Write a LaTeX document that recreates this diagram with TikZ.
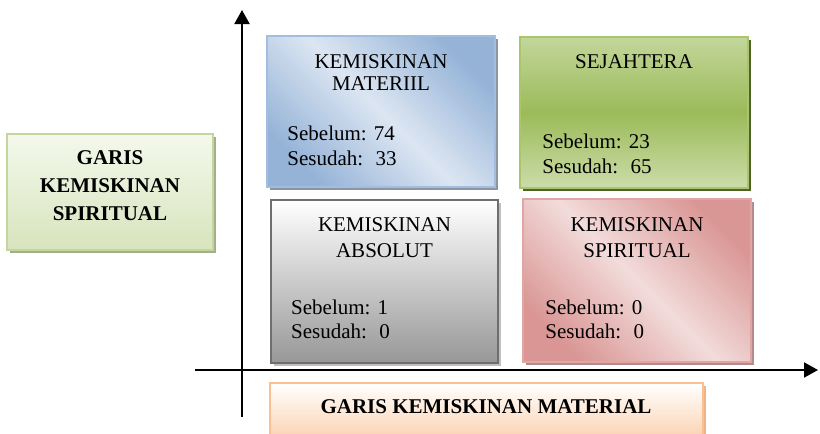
\documentclass[tikz,border=0pt]{standalone}
\usepackage{fontspec}
\setmainfont{Liberation Serif}
\usetikzlibrary{arrows.meta,positioning,shadows}

\definecolor{matdark}{HTML}{95B3D7}
\definecolor{matlight}{HTML}{DCE6F2}
\definecolor{matline}{HTML}{A3BDE0}
\definecolor{matshadow}{HTML}{8C96A2}
\definecolor{sejlight}{HTML}{C3D69B}
\definecolor{sejdark}{HTML}{9BBB59}
\definecolor{sejline}{HTML}{A8C66C}
\definecolor{sejshadow}{HTML}{4F6228}
\definecolor{absdark}{HTML}{979797}
\definecolor{absline}{HTML}{6E6E6E}
\definecolor{absshadow}{HTML}{C0C0C0}
\definecolor{spidark}{HTML}{D99694}
\definecolor{spilight}{HTML}{F2DCDB}
\definecolor{spishadow}{HTML}{B58A8C}
\definecolor{gkslight}{HTML}{F4F8EC}
\definecolor{gksdark}{HTML}{D7E4BD}
\definecolor{gksline}{HTML}{C3D69B}
\definecolor{gksshadow}{HTML}{A3AE8C}
\definecolor{gkmdark}{HTML}{FBD4B4}
\definecolor{gkmline}{HTML}{FAC090}
\definecolor{gkmshadow}{HTML}{F0B386}

\begin{document}
\begin{tikzpicture}[
    x=1pt, y=-1pt,
    box/.style={draw, line width=1.5pt, inner sep=0pt, minimum width=228pt, minimum height=151pt},
    shadowed/.style={drop shadow={shadow xshift=3pt, shadow yshift=-3pt, fill=#1, opacity=1}},
    title/.style={inner sep=0pt, align=center, font=\fontsize{21}{22}\selectfont},
    values/.style={inner sep=0pt, align=left, font=\fontsize{21}{25}\selectfont},
    bold/.style={inner sep=0pt, align=center, font=\fontsize{21}{28}\selectfont\bfseries},
    axis/.style={line width=2pt, -{Triangle[length=14pt,width=15pt]}},
  ]
  \useasboundingbox (0,0) rectangle (820,434);

  % axes
  \coordinate (ybottom) at (242,417);
  \coordinate (ytop) at (242,10);
  \coordinate (xleft) at (195,370);
  \coordinate (xright) at (818,370);
  \draw[axis] (ybottom) -- (ytop);
  \draw[axis] (xleft) -- (xright);

  % quadrants
  \node[box, shadowed=matshadow, draw=matline, top color=matdark, bottom color=matdark,
        middle color=matlight, shading angle=-45] (materiil) at (381,111.5) {};
  \node[box, shadowed=sejshadow, draw=sejline, top color=sejlight, bottom color=sejlight!85!white,
        middle color=sejdark] (sejahtera) at (634,112.5) {};
  \node[box, shadowed=absshadow, draw=absline, line width=2pt, minimum width=227pt, minimum height=163pt,
        top color=white, bottom color=absdark] (absolut) at (384.5,281.5) {};
  \node[box, shadowed=spishadow, draw=spidark!85!white, minimum height=163pt, top color=spidark,
        bottom color=spidark, middle color=spilight, shading angle=-45] (spiritual) at (637,280.5) {};

  \node[title, below=19pt of materiil.north] {KEMISKINAN\\MATERIIL};
  \node[values, above right=22pt and 21pt of materiil.south west] {Sebelum: 74\\Sesudah:~ 33};
  \node[title, below=18pt of sejahtera.north] {SEJAHTERA};
  \node[values, above right=15pt and 23pt of sejahtera.south west] {Sebelum: 23\\Sesudah:~ 65};
  \node[title, font=\fontsize{21}{26}\selectfont, below=18pt of absolut.north] {KEMISKINAN\\ABSOLUT};
  \node[values, font=\fontsize{21}{24}\selectfont, above right=25pt and 21pt of absolut.south west] {Sebelum: 1\\Sesudah:~ 0};
  \node[title, font=\fontsize{21}{26}\selectfont, below=19pt of spiritual.north] {KEMISKINAN\\SPIRITUAL};
  \node[values, font=\fontsize{21}{24}\selectfont, above right=24pt and 23pt of spiritual.south west] {Sebelum: 0\\Sesudah:~ 0};

  % axis captions
  \node[box, shadowed=gksshadow, draw=gksline, minimum width=206pt, minimum height=116pt,
        top color=gkslight, bottom color=gksdark] (spiritualline) at (110,192) {};
  \node[bold] at ([yshift=6pt]spiritualline.center) {GARIS\\KEMISKINAN\\SPIRITUAL};
  \node[box, shadowed=gkmshadow, draw=gkmline, minimum width=433pt, minimum height=53pt,
        top color=white, bottom color=gkmdark] (materialline) at (486.5,409.5) {};
  \node[bold, anchor=base] at (486,413) {GARIS KEMISKINAN MATERIAL};
\end{tikzpicture}
\end{document}
